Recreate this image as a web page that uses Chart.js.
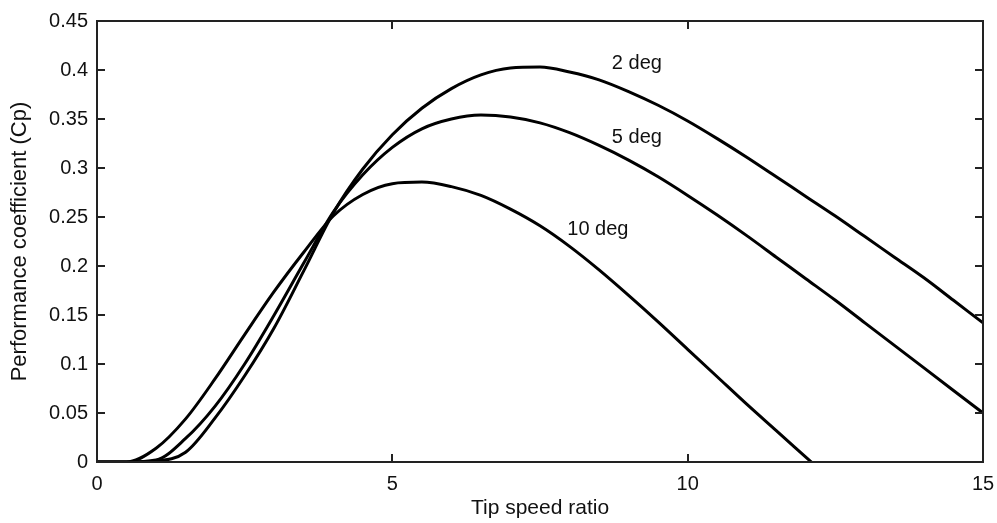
<!DOCTYPE html>
<html>
<head>
<meta charset="utf-8">
<script src="https://cdn.jsdelivr.net/npm/chart.js@4.4.0/dist/chart.umd.min.js"></script>
<style>
  html, body { margin: 0; padding: 0; background: #fff; }
  #wrap { width: 997px; height: 523px; }
</style>
</head>
<body>
<div id="wrap"><canvas id="cpChart" width="997" height="523"></canvas></div>
<script>
// tip speed ratio samples
const tsr = [0, 0.5, 1, 1.5, 2, 2.5, 3, 3.5, 4, 4.5, 5, 5.5, 6, 6.5, 7, 7.5, 8, 8.5, 9, 9.5, 10, 10.5, 11, 11.5, 12, 12.5, 13, 13.5, 14, 14.5, 15];

// Cp, one list per pitch angle
const cp2 = [0, 0, 0.001, 0.010, 0.045, 0.088, 0.137, 0.195, 0.254, 0.299, 0.334, 0.361, 0.381, 0.395, 0.402, 0.403, 0.398, 0.390, 0.378, 0.364, 0.348, 0.330, 0.311, 0.291, 0.271, 0.251, 0.230, 0.209, 0.188, 0.165, 0.142];
const cp5 = [0, 0, 0.002, 0.024, 0.057, 0.100, 0.150, 0.203, 0.255, 0.293, 0.321, 0.340, 0.350, 0.354, 0.352, 0.346, 0.336, 0.323, 0.308, 0.291, 0.272, 0.252, 0.231, 0.209, 0.187, 0.165, 0.142, 0.119, 0.096, 0.073, 0.050];
const cp10 = [0, 0, 0.014, 0.044, 0.085, 0.130, 0.174, 0.214, 0.251, 0.273, 0.284, 0.2856, 0.281, 0.272, 0.258, 0.241, 0.220, 0.196, 0.170, 0.143, 0.115, 0.087, 0.059, 0.032, 0.005, -0.022, null, null, null, null, null];

const seriesLabels = ['2 deg', '5 deg', '10 deg'];
// where each curve label sits, in data units [tsr, cp]
const labelPos = [[9.14, 0.407], [9.14, 0.331], [8.48, 0.237]];

const xTicks = [0, 5, 10, 15];
const yTicks = [0, 0.05, 0.1, 0.15, 0.2, 0.25, 0.3, 0.35, 0.4, 0.45];

function toPoints(ys) {
    return tsr.map((x, i) => ({ x: x, y: ys[i] })).filter(p => p.y !== null);
}

// box, inward ticks on all four sides, curve labels
const frameAndLabels = {
    id: 'frameAndLabels',
    afterDraw(chart) {
        const { ctx, chartArea: a, scales } = chart;
        ctx.save();
        ctx.strokeStyle = '#222';
        ctx.lineWidth = 2;
        ctx.strokeRect(a.left, a.top, a.right - a.left, a.bottom - a.top);
        const t = 8;
        ctx.beginPath();
        xTicks.forEach(v => {
            const px = Math.round(scales.x.getPixelForValue(v));
            ctx.moveTo(px, a.bottom); ctx.lineTo(px, a.bottom - t);
            ctx.moveTo(px, a.top); ctx.lineTo(px, a.top + t);
        });
        yTicks.forEach(v => {
            const py = Math.round(scales.y.getPixelForValue(v));
            ctx.moveTo(a.left, py); ctx.lineTo(a.left + t, py);
            ctx.moveTo(a.right, py); ctx.lineTo(a.right - t, py);
        });
        ctx.stroke();

        ctx.fillStyle = '#111';
        ctx.font = '20px "Liberation Sans", Arial, sans-serif';
        ctx.textAlign = 'center';
        ctx.textBaseline = 'middle';
        seriesLabels.forEach((txt, i) => {
            ctx.fillText(txt, scales.x.getPixelForValue(labelPos[i][0]), scales.y.getPixelForValue(labelPos[i][1]));
        });
        ctx.restore();
    }
};

const lineStyle = {
    borderColor: '#000',
    borderWidth: 3,
    pointRadius: 0,
    fill: false,
    cubicInterpolationMode: 'monotone'
};

new Chart(document.getElementById('cpChart'), {
    type: 'line',
    data: {
        datasets: [
            { label: seriesLabels[0], data: toPoints(cp2), ...lineStyle },
            { label: seriesLabels[1], data: toPoints(cp5), ...lineStyle },
            { label: seriesLabels[2], data: toPoints(cp10), ...lineStyle },
        ],
    },
    options: {
        responsive: false,
        animation: false,
        layout: { padding: { left: 7, top: 18, right: 0, bottom: 0 } },
        plugins: {
            legend: { display: false },
            tooltip: { enabled: false },
        },
        scales: {
            x: {
                type: 'linear',
                min: 0,
                max: 15,
                afterBuildTicks: s => { s.ticks = xTicks.map(v => ({ value: v })); },
                afterFit: s => { s.height = 61; s.paddingRight = 14; s.paddingLeft = 0; },
                grid: { display: false, drawTicks: false },
                border: { display: false },
                ticks: {
                    color: '#111',
                    padding: 10,
                    maxRotation: 0,
                    font: { family: '"Liberation Sans", Arial, sans-serif', size: 20 },
                },
                title: {
                    display: true,
                    text: 'Tip speed ratio',
                    color: '#111',
                    padding: { top: 0, bottom: 2 },
                    font: { family: '"Liberation Sans", Arial, sans-serif', size: 21 },
                },
            },
            y: {
                min: 0,
                max: 0.45,
                afterBuildTicks: s => { s.ticks = yTicks.map(v => ({ value: v })); },
                afterFit: s => { s.width = 90; },
                grid: { display: false, drawTicks: false },
                border: { display: false },
                ticks: {
                    color: '#111',
                    padding: 9,
                    callback: v => String(+v.toFixed(2)),
                    font: { family: '"Liberation Sans", Arial, sans-serif', size: 20 },
                },
                title: {
                    display: true,
                    text: 'Performance coefficient (Cp)',
                    color: '#111',
                    padding: { top: 0, bottom: 0 },
                    font: { family: '"Liberation Sans", Arial, sans-serif', size: 22 },
                },
            },
        },
    },
    plugins: [frameAndLabels],
});
</script>
</body>
</html>
